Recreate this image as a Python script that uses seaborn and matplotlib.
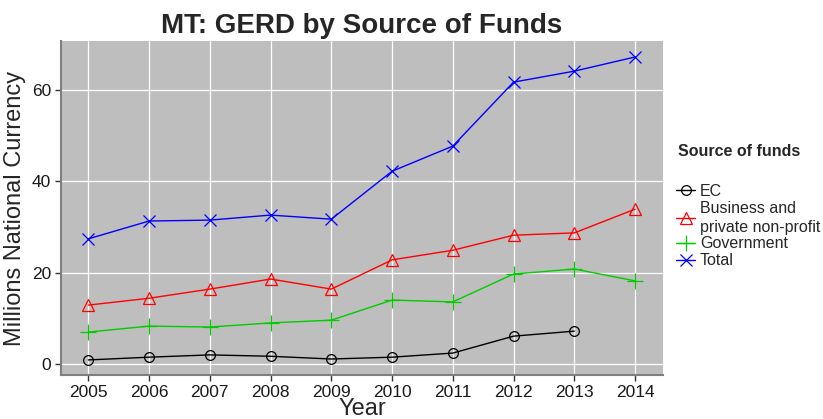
import matplotlib
matplotlib.use("Agg")
import matplotlib.pyplot as plt
import numpy as np
import pandas as pd
import seaborn as sns

years = [2005, 2006, 2007, 2008, 2009, 2010, 2011, 2012, 2013, 2014]
ec = [0.9, 1.5, 2.0, 1.7, 1.1, 1.5, 2.4, 6.1, 7.2, np.nan]
business = [12.9, 14.4, 16.4, 18.6, 16.4, 22.8, 24.9, 28.2, 28.7, 33.9]
government = [7.0, 8.3, 8.1, 9.0, 9.6, 14.0, 13.6, 19.7, 20.8, 18.2]
total = [27.4, 31.3, 31.5, 32.6, 31.7, 42.2, 47.7, 61.7, 64.1, 67.2]

series_names = ["EC", "Business and\nprivate non-profit", "Government", "Total"]
series_values = [ec, business, government, total]
colors = ["black", "#FF0000", "#00CC00", "#0000FF"]
markers = ["o", "^", "+", "x"]
marker_sizes = [7, 9, 11, 8]

sns.set_style("white")
plt.rcParams["font.family"] = ["Liberation Sans", "DejaVu Sans"]

fig = plt.figure(figsize=(8.23, 4.19), dpi=100)
ax = fig.add_axes([61 / 823, 1 - 375 / 419, (663 - 61) / 823, (375 - 41) / 419])
ax.set_facecolor("#BEBEBE")

handles = []
for name, vals, c, m, ms in zip(series_names, series_values, colors, markers, marker_sizes):
    df = pd.DataFrame({"Year": years, "Value": vals}).dropna()
    sns.lineplot(data=df, x="Year", y="Value", ax=ax, color=c, marker=m,
                 markersize=ms, markerfacecolor="none", markeredgecolor=c,
                 markeredgewidth=0.9, linewidth=1.0, zorder=3)
    handles.append(plt.Line2D([], [], color=c, marker=m, markersize=ms,
                              markerfacecolor="none", markeredgecolor=c,
                              markeredgewidth=0.9, linewidth=1.0))

ax.set_xlim(2004.55, 2014.46)
ax.set_ylim(-2.4, 70.7)
ax.set_xticks(years)
ax.set_yticks([0, 20, 40, 60])
ax.grid(True, color="white", linewidth=0.9)
ax.set_axisbelow(True)
for side in ["top", "right"]:
    ax.spines[side].set_visible(False)
for side in ["left", "bottom"]:
    ax.spines[side].set_color("#7F7F7F")
    ax.spines[side].set_linewidth(1.5)
ax.tick_params(axis="both", length=4, width=1.0, color="#333333",
               labelsize=12.5, labelcolor="#1A1A1A", direction="out",
               left=True, bottom=True, pad=3)

ax.set_xlabel("Year", fontsize=17, labelpad=-1)
ax.set_ylabel("Millions National Currency", fontsize=17, labelpad=4)
ax.set_title("MT: GERD by Source of Funds", fontsize=20, fontweight="bold", pad=6)

fig.text(678 / 823, 1 - 152 / 419, "Source of funds", fontsize=11.5,
         fontweight="bold", va="center", ha="left")
leg = fig.legend(handles, series_names, loc="upper left",
                 bbox_to_anchor=(676 / 823, 1 - 184 / 419), frameon=False,
                 fontsize=11.5, handlelength=1.2, handletextpad=0.3,
                 labelspacing=0.12, borderaxespad=0, borderpad=0)
for t in leg.get_texts():
    t.set_linespacing(1.3)

fig.savefig("out.png", dpi=100)
